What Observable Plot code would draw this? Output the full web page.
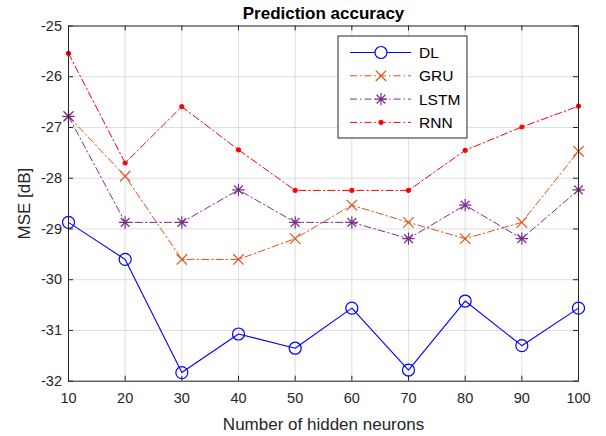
<!DOCTYPE html>
<html><head><meta charset="utf-8">
<script src="https://cdn.jsdelivr.net/npm/d3@7"></script>
<script src="https://cdn.jsdelivr.net/npm/@observablehq/plot@0.6"></script>
<style>
body{margin:0;background:#fff}
#wrap{position:relative;width:606px;height:436px}
</style>
</head><body><div id="wrap"></div>
<script>
// ---- data ----
const neurons = [10, 20, 30, 40, 50, 60, 70, 80, 90, 100];
const dlMSE   = [-28.87, -29.60, -31.83, -31.07, -31.35, -30.56, -31.78, -30.42, -31.30, -30.56];
const gruMSE  = [-26.78, -27.96, -29.60, -29.60, -29.19, -28.53, -28.87, -29.19, -28.87, -27.47];
const lstmMSE = [-26.78, -28.87, -28.87, -28.23, -28.87, -28.87, -29.19, -28.53, -29.19, -28.23];
const rnnMSE  = [-25.54, -27.70, -26.59, -27.44, -28.24, -28.24, -28.24, -27.45, -26.99, -26.58];
const seriesNames = ["DL", "GRU", "LSTM", "RNN"];
const xTicks = [10, 20, 30, 40, 50, 60, 70, 80, 90, 100];
const yTicks = [-32, -31, -30, -29, -28, -27, -26, -25];
const titleText = "Prediction accuracy";
const xLabel = "Number of hidden neurons";
const yLabel = "MSE [dB]";

// ---- custom symbols ----
const timesSym = {draw(ctx, size){const r = Math.sqrt(size/Math.PI);
  ctx.moveTo(-r,-r); ctx.lineTo(r,r); ctx.moveTo(-r,r); ctx.lineTo(r,-r);}};
const starSym = {draw(ctx, size){const r = Math.sqrt(size/Math.PI); const d = r*Math.SQRT1_2;
  ctx.moveTo(-r,0); ctx.lineTo(r,0); ctx.moveTo(0,-r); ctx.lineTo(0,r);
  ctx.moveTo(-d,-d); ctx.lineTo(d,d); ctx.moveTo(-d,d); ctx.lineTo(d,-d);}};
const circleSym = {draw(ctx, size){const r = Math.sqrt(size/Math.PI); ctx.moveTo(r,0); ctx.arc(0,0,r,0,2*Math.PI);}};

const styles = {
  DL:   {values: dlMSE,   stroke: "#0000ff", dash: null,          sym: circleSym, r: 6,   fill: "none",    sw: 1.1},
  GRU:  {values: gruMSE,  stroke: "#D95319", dash: "7,3,1.5,3",   sym: timesSym,  r: 5.2, fill: "none",    sw: 1},
  LSTM: {values: lstmMSE, stroke: "#7E2F8E", dash: "7,3,1.5,3",   sym: starSym,   r: 6.2, fill: "none",    sw: 1},
  RNN:  {values: rnnMSE,  stroke: "#ff0000", dash: "7,3,1.5,3",   sym: circleSym, r: 2,   fill: "#ff0000", sw: 1}
};

const W = 606, H = 436, mL = 68, mR = 28, mT = 25.5, mB = 55.3;
const innerW = W - mL - mR, innerH = H - mT - mB;
const font = "'Liberation Sans', Arial, Helvetica, sans-serif";
const ink = "#262626";

const seriesMarks = [];
for (const name of seriesNames) {
  const s = styles[name];
  const data = neurons.map((x, i) => ({x, y: s.values[i]}));
  seriesMarks.push(Plot.line(data, {x: "x", y: "y", stroke: s.stroke, strokeWidth: s.sw, strokeDasharray: s.dash}));
  seriesMarks.push(Plot.dot(data, {x: "x", y: "y", symbol: s.sym, r: s.r, stroke: s.stroke, fill: s.fill, strokeWidth: 1.2}));
}

const chart = Plot.plot({
  width: W, height: H,
  marginLeft: mL, marginRight: mR, marginTop: mT, marginBottom: mB,
  style: {fontFamily: font, fontSize: "14.5px", color: ink, background: "#fff"},
  x: {domain: [10, 100]},
  y: {domain: [-32, -25]},
  marks: [
    Plot.gridX(xTicks, {stroke: ink, strokeOpacity: 0.15}),
    Plot.gridY(yTicks, {stroke: ink, strokeOpacity: 0.15}),
    ...seriesMarks,
    Plot.frame({stroke: ink, strokeWidth: 1}),
    Plot.tickX(xTicks, {x: d => d, stroke: ink, insetTop: innerH - 5}),
    Plot.tickX(xTicks, {x: d => d, stroke: ink, insetBottom: innerH - 5}),
    Plot.tickY(yTicks, {y: d => d, stroke: ink, insetRight: innerW - 5}),
    Plot.tickY(yTicks, {y: d => d, stroke: ink, insetLeft: innerW - 5}),
    Plot.axisX(xTicks, {tickSize: 0, tickPadding: 12, tickFormat: d => String(d), label: null, fill: ink}),
    Plot.axisY(yTicks, {tickSize: 0, tickPadding: 6.5, tickFormat: d => String(d), label: null, fill: ink}),
    Plot.text([titleText], {frameAnchor: "top", lineAnchor: "middle", textAnchor: "middle", dy: -12.5, fontWeight: "bold", fontSize: 17, fill: "#000"}),
    Plot.text([xLabel], {frameAnchor: "bottom", lineAnchor: "middle", textAnchor: "middle", dy: 43.3, fontSize: 17, fill: ink}),
    Plot.text([yLabel], {frameAnchor: "left", lineAnchor: "middle", textAnchor: "middle", dx: -44, rotate: -90, fontSize: 17, fill: ink})
  ]
});
document.getElementById("wrap").appendChild(chart);

// ---- legend (drawn into the same SVG) ----
const svg = d3.select(chart);
const lg = svg.append("g").attr("font-family", font).attr("font-size", 15.5).attr("text-anchor", "start");
lg.append("rect").attr("x", 338).attr("y", 36).attr("width", 129).attr("height", 102)
  .attr("fill", "#fff").attr("stroke", ink).attr("stroke-width", 1);
seriesNames.forEach((name, i) => {
  const s = styles[name];
  const cy = 52.5 + i * 23.3;
  lg.append("line").attr("x1", 350).attr("x2", 411).attr("y1", cy).attr("y2", cy)
    .attr("stroke", s.stroke).attr("stroke-width", s.sw).attr("stroke-dasharray", s.dash);
  lg.append("path").attr("transform", `translate(381,${cy})`)
    .attr("d", d3.symbol(s.sym, Math.PI * s.r * s.r)())
    .attr("stroke", s.stroke).attr("fill", s.fill === "none" ? "#fff" : s.fill).attr("stroke-width", 1.2);
  lg.append("text").attr("x", 419).attr("y", cy).attr("dy", "0.35em").attr("fill", "#000").text(name);
});
</script>
</body></html>
